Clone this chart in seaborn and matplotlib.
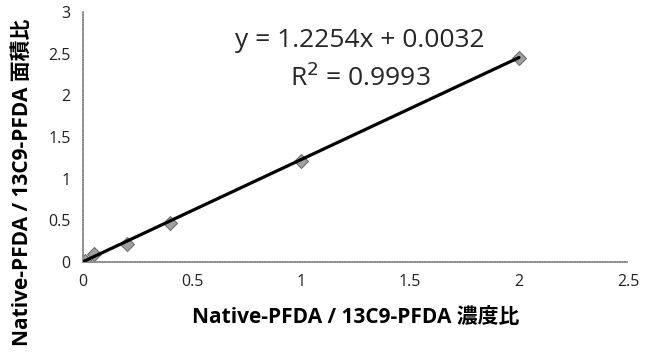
import matplotlib
matplotlib.use("Agg")
import matplotlib.pyplot as plt
import numpy as np
import pandas as pd
import seaborn as sns

# calibration points
conc_ratio = [0.0, 0.01, 0.05, 0.2, 0.4, 1.0, 2.0]
area_ratio = [0.0, 0.01, 0.09, 0.21, 0.47, 1.21, 2.45]

# displayed linear fit
SLOPE = 1.2254
INTERCEPT = 0.0032
R2 = 0.9993
fit_x = [0.0, 2.0]

x_ticks = [0, 0.5, 1, 1.5, 2, 2.5]
x_tick_labels = ["0", "0.5", "1", "1.5", "2", "2.5"]
y_ticks = [0, 0.5, 1, 1.5, 2, 2.5, 3]
y_tick_labels = ["0", "0.5", "1", "1.5", "2", "2.5", "3"]

X_LABEL = "Native-PFDA / 13C9-PFDA 濃度比"
Y_LABEL = "Native-PFDA / 13C9-PFDA 面積比"

sns.set_theme(style="white")
plt.rcParams["font.family"] = ["Open Sans", "Noto Sans CJK JP", "DejaVu Sans"]

df = pd.DataFrame({"conc": conc_ratio, "area": area_ratio})
fit_df = pd.DataFrame({"x": fit_x, "y": [SLOPE * v + INTERCEPT for v in fit_x]})

fig = plt.figure(figsize=(6.59, 3.54), dpi=100)
ax = fig.add_axes([0.126, 0.26, 0.827, 0.706])

sns.scatterplot(data=df, x="conc", y="area", marker="D", s=50,
                color="#a0a0a0", edgecolor="#707070", linewidth=0.8,
                ax=ax, zorder=2)
sns.lineplot(data=fit_df, x="x", y="y", color="black", linewidth=2.3,
             ax=ax, zorder=3)

ax.set_xlim(0, 2.5)
ax.set_ylim(0, 3)
ax.set_xticks(x_ticks)
ax.set_xticklabels(x_tick_labels, fontsize=11.5, color="#222222")
ax.set_yticks(y_ticks)
ax.set_yticklabels(y_tick_labels, fontsize=11.5, color="#222222")
ax.tick_params(length=0, pad=9)

for side in ["top", "right"]:
    ax.spines[side].set_visible(False)
for side in ["left", "bottom"]:
    ax.spines[side].set_color("#8c8c8c")
    ax.spines[side].set_linestyle((0, (1, 0.5)))
    ax.spines[side].set_linewidth(1.2)

ax.set_xlabel(X_LABEL, fontsize=15, fontweight="bold", labelpad=12,
              color="black")
ax.set_ylabel(Y_LABEL, fontsize=15, fontweight="bold", color="black")
# the y label sits lower than the axes centre in the original
ax.yaxis.set_label_coords(-0.092, 0.32)

ax.text(1.27, 2.66, f"y = {SLOPE}x + {INTERCEPT:.4f}", fontsize=19,
        ha="center", va="center")
ax.text(1.27, 2.21, f"R$^2$ = {R2}", fontsize=19, ha="center", va="center")

fig.savefig("out.png", dpi=100)
